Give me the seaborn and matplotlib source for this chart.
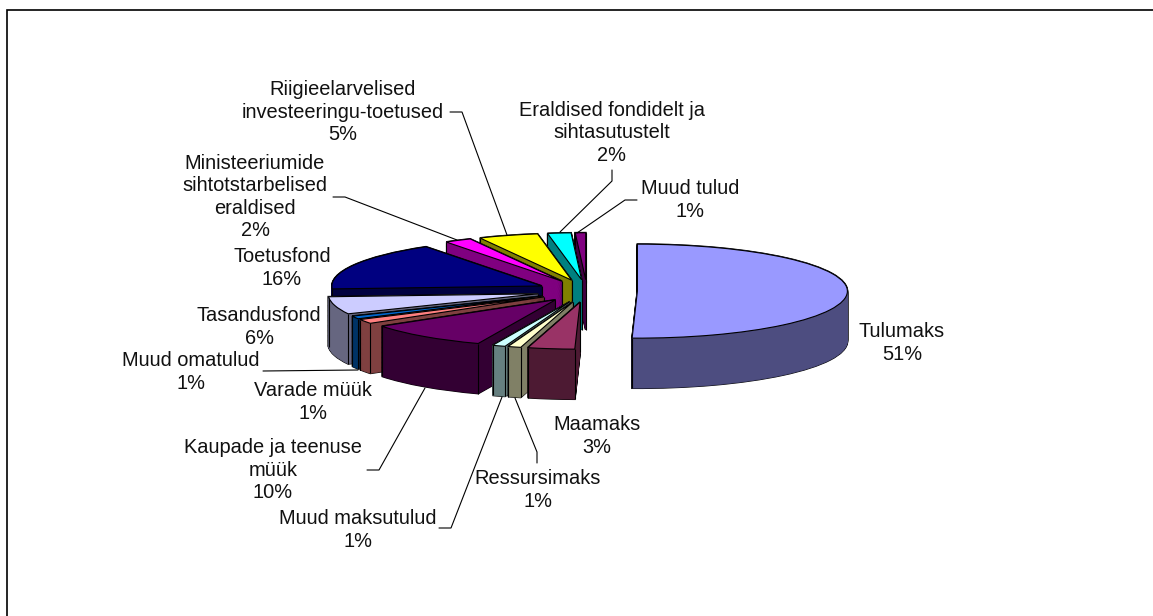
import numpy as np
import matplotlib
matplotlib.use('Agg')
import matplotlib.pyplot as plt
import seaborn as sns

sns.set_theme(style='white')
plt.rcParams['font.family'] = ['Liberation Sans', 'DejaVu Sans']

W, H = 1153, 616

# slices, clockwise from 12 o'clock
names = ['Tulumaks', 'Maamaks', 'Ressursimaks', 'Muud maksutulud',
         'Kaupade ja teenuse\nmüük', 'Varade müük', 'Muud omatulud',
         'Tasandusfond', 'Toetusfond',
         'Ministeeriumide\nsihtotstarbelised\neraldised',
         'Riigieelarvelised\ninvesteeringu-toetused',
         'Eraldised fondidelt ja\nsihtasutustelt', 'Muud tulud']
percents = [51, 3, 1, 1, 10, 1, 1, 6, 16, 2, 5, 2, 1]
# unrounded shares
values = [50.4, 3.6, 1, 1, 9.5, 1.5, 1, 6, 16.7, 2.1, 4.6, 1.8, 0.8]
colors = ['#9999FF', '#993366', '#FFFFCC', '#CCFFFF', '#660066', '#FF8080', '#0066CC',
          '#CCCCFF', '#000080', '#FF00FF', '#FFFF00', '#00FFFF', '#800080']

# label centres in pixels, same order as names
label_x = [902, 597, 538, 358, 273, 313, 191, 259, 282, 255, 343, 612, 690]
label_y = [343, 436, 490, 530, 470, 402, 372, 327, 268, 197, 112, 133, 200]

# leader lines in pixels
leaders = [
    [(450, 112), (462, 112), (507, 235)],
    [(333, 197), (345, 197), (457, 240)],
    [(263, 371), (358, 370)],
    [(367, 470), (379, 470), (425, 388)],
    [(439, 528), (451, 528), (502, 397)],
    [(537, 463), (537, 452), (515, 398)],
    [(612, 170), (612, 181), (560, 232)],
    [(637, 200), (625, 200), (577, 233)],
]

# pie geometry, pixels
CX, CY = 587, 291
RX, RY = 210, 47
DEPTH = 50 / RY
EXPLODE = 0.24
N_LAYERS = 60

palette = sns.color_palette(colors)
side_colors = [tuple(c * 0.5 for c in col) for col in palette]

fig = plt.figure(figsize=(W / 100, H / 100), dpi=100, facecolor='white')
ax = fig.add_axes([0, 0, 1, 1])

# far slices get painted first
fractions = np.array(values) / sum(values)
mids = (np.cumsum(fractions) - fractions / 2) * 2 * np.pi
rank = np.argsort(np.argsort(-np.cos(mids)))

explode = [EXPLODE] * len(values)

for k in range(N_LAYERS + 1):
    off = DEPTH * (1 - k / N_LAYERS)
    for is_outline in (True, False):
        wedges, _ = ax.pie(values, explode=explode, colors=side_colors, startangle=90,
                           counterclock=False, center=(0, -off),
                           wedgeprops=dict(linewidth=1.3 if is_outline else 0.5))
        for i, w in enumerate(wedges):
            w.set_edgecolor('black' if is_outline else side_colors[i])
            w.set_zorder(rank[i] * 10 + (1 if is_outline else 2) + k / (N_LAYERS * 2))

tops, _ = ax.pie(values, explode=explode, colors=palette, startangle=90, counterclock=False,
                 center=(0, 0), wedgeprops=dict(linewidth=0.8, edgecolor='black'))
for i, w in enumerate(tops):
    w.set_zorder(rank[i] * 10 + 5)
    cx0, cy0 = w.center
    t1, t2 = np.deg2rad(w.theta1), np.deg2rad(w.theta2)
    # vertical edges where the side wall is actually in view
    corners = []
    if np.sin(t1) <= 0 or np.cos(t1) >= 0:
        corners.append((cx0 + np.cos(t1), cy0 + np.sin(t1)))
    if np.sin(t2) <= 0 or np.cos(t2) <= 0:
        corners.append((cx0 + np.cos(t2), cy0 + np.sin(t2)))
    if not (w.theta1 % 360 <= 270 <= w.theta1 % 360 + (w.theta2 - w.theta1)):
        corners.append((cx0, cy0))
    for x, y in corners:
        ax.plot([x, x], [y, y - DEPTH], color='black', lw=0.8, zorder=rank[i] * 10 + 4,
                solid_capstyle='butt')

ax.set_aspect('auto')
ax.set_xlim(-CX / RX, (W - CX) / RX)
ax.set_ylim((CY - H) / RY, CY / RY)
ax.axis('off')

# overlay in pixel coordinates for labels, leaders and the frame
ov = fig.add_axes([0, 0, 1, 1], facecolor='none')
ov.set_xlim(0, W)
ov.set_ylim(H, 0)
ov.axis('off')

for name, pct, x, y in zip(names, percents, label_x, label_y):
    ov.text(x, y, f'{name}\n{pct}%', ha='center', va='center', ma='center',
            fontsize=14.4, color='#111111', linespacing=1.22)

for pts in leaders:
    xs, ys = zip(*pts)
    ov.plot(xs, ys, color='black', lw=0.8)

ov.plot([7, 7, W], [H, 9.5, 9.5], color='black', lw=1.2, solid_joinstyle='miter')

fig.savefig('out.png', dpi=100)
